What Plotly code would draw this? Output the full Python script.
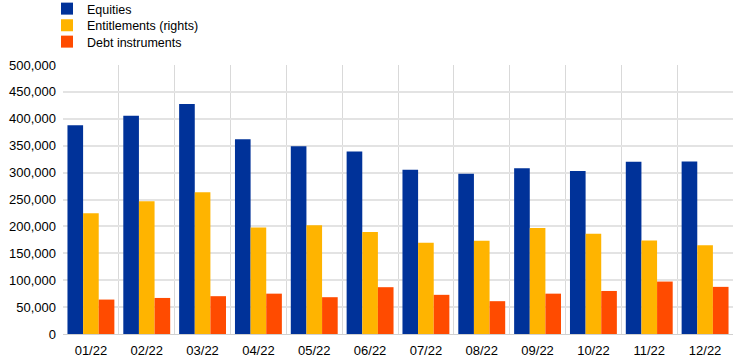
import plotly.graph_objects as go

months = ["01/22", "02/22", "03/22", "04/22", "05/22", "06/22",
          "07/22", "08/22", "09/22", "10/22", "11/22", "12/22"]
equities = [388000, 405500, 427700, 362000, 349000, 339000,
            305500, 298000, 308000, 303000, 320000, 320800]
entitlements = [224600, 246800, 263500, 198000, 202000, 189400,
                169600, 173300, 196900, 186300, 174000, 164800]
debt = [64000, 67000, 70300, 75000, 68400, 87000,
        72800, 61000, 75000, 80000, 97500, 87600]

x = list(range(len(months)))

fig = go.Figure()
fig.add_trace(go.Bar(x=x, y=equities, name="Equities", marker_color="#003299",
                     marker_line_width=0, legend="legend"))
fig.add_trace(go.Bar(x=x, y=entitlements, name="Entitlements (rights)", marker_color="#FFB400",
                     marker_line_width=0, legend="legend2"))
fig.add_trace(go.Bar(x=x, y=debt, name="Debt instruments", marker_color="#FF4B00",
                     marker_line_width=0, legend="legend3"))

L = 63
T = 65
PW = 744 - 63 - 11
PH = 334 - 65


def lx(px):
    return (px - L) / PW


def ly(py):
    return 1 + (T - py) / PH


leg_common = dict(xanchor="left", yanchor="middle", font=dict(size=12.5),
                  bgcolor="rgba(0,0,0,0)", borderwidth=0, itemwidth=30)

fig.update_layout(
    width=744, height=362,
    margin=dict(l=L, r=11, t=T, b=28, autoexpand=False),
    paper_bgcolor="white", plot_bgcolor="white",
    barmode="group", bargap=0.16, bargroupgap=0,
    font=dict(family="Arial, Liberation Sans, sans-serif", size=13, color="#000000"),
    legend=dict(x=lx(47), y=ly(9), **leg_common),
    legend2=dict(x=lx(47), y=ly(25.5), **leg_common),
    legend3=dict(x=lx(47), y=ly(42), **leg_common),
    showlegend=True,
)
fig.update_xaxes(
    range=[-0.5, 11.5], tickmode="array", tickvals=x, ticktext=months,
    showgrid=False, ticks="", zeroline=False, automargin=False,
    showline=True, linecolor="#d0d0d0", linewidth=1,
    minor=dict(tick0=-0.5, dtick=1, showgrid=True, gridcolor="#d9d9d9", gridwidth=1, ticks=""),
    tickfont=dict(size=13), ticklabelstandoff=4,
)
fig.update_yaxes(
    range=[0, 500000], dtick=50000, tickformat=",",
    showgrid=True, gridcolor="#e3e3e3", gridwidth=1.5, automargin=False,
    zeroline=False, showline=False, ticks="",
    tickfont=dict(size=13), ticklabelstandoff=6,
)

fig.write_html("out.html", config={"displayModeBar": False},
               post_script="document.body.style.margin='0';document.body.style.overflow='hidden';")
